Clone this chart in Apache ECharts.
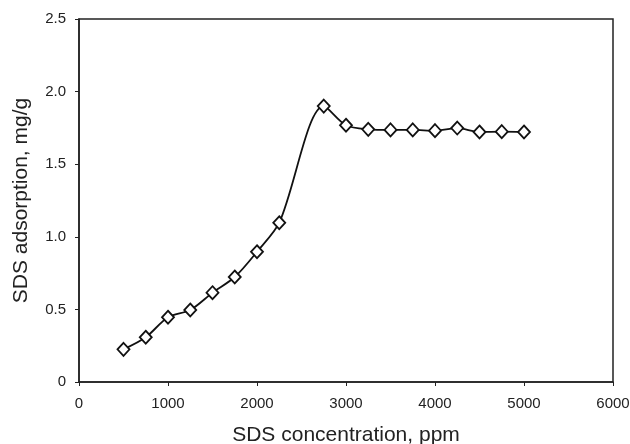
<!DOCTYPE html>
<html>
<head>
<meta charset="utf-8">
<script src="https://cdn.jsdelivr.net/npm/echarts@6/dist/echarts.min.js"></script>
<style>
  html, body { margin: 0; padding: 0; background: #fff; }
  #chart { width: 630px; height: 444px; }
</style>
</head>
<body>
<div id="chart"></div>
<script>
// SDS concentration (ppm) and adsorption (mg/g)
var concentration = [500, 750, 1000, 1250, 1500, 1750, 2000, 2250, 2750, 3000, 3250, 3500, 3750, 4000, 4250, 4500, 4750, 5000];
var adsorption = [0.225, 0.308, 0.446, 0.496, 0.615, 0.723, 0.897, 1.097, 1.90, 1.768, 1.740, 1.736, 1.736, 1.731, 1.749, 1.722, 1.724, 1.722];

var xTicks = [0, 1000, 2000, 3000, 4000, 5000, 6000];
var yTicks = [0, 0.5, 1.0, 1.5, 2.0, 2.5];

var points = [];
for (var i = 0; i < concentration.length; i++) {
    points.push([concentration[i], adsorption[i]]);
}

var font = 'Liberation Sans, Arial, sans-serif';

var option = {
    animation: false,
    backgroundColor: '#fff',
    grid: {
        left: 79,
        right: 17,
        top: 19,
        bottom: 62,
        outerBoundsMode: 'none',
        show: true,
        borderColor: '#222',
        borderWidth: 1.5
    },
    xAxis: {
        type: 'value',
        min: xTicks[0],
        max: xTicks[xTicks.length - 1],
        interval: 1000,
        name: 'SDS concentration, ppm',
        nameLocation: 'middle',
        nameGap: 43,
        nameTextStyle: { fontFamily: font, fontSize: 21, color: '#222' },
        axisLine: { show: true, lineStyle: { color: '#222', width: 1.5 } },
        axisTick: { show: true, length: 4, lineStyle: { color: '#222' } },
        axisLabel: {
            fontFamily: font, fontSize: 15, color: '#222', margin: 14,
            formatter: function (v) { return String(v); }
        },
        splitLine: { show: false }
    },
    yAxis: {
        type: 'value',
        min: yTicks[0],
        max: yTicks[yTicks.length - 1],
        interval: 0.5,
        name: 'SDS adsorption, mg/g',
        nameLocation: 'middle',
        nameGap: 47,
        nameTextStyle: { fontFamily: font, fontSize: 21, color: '#222' },
        axisLine: { show: true, lineStyle: { color: '#222', width: 1.5 } },
        axisTick: { show: true, length: 4, lineStyle: { color: '#222' } },
        axisLabel: {
            fontFamily: font, fontSize: 15, color: '#222', margin: 13,
            formatter: function (v) { return v === 0 ? '0' : v.toFixed(1); }
        },
        splitLine: { show: false }
    },
    series: [{
        type: 'line',
        data: points,
        smooth: 0.3,
        symbol: 'diamond',
        symbolSize: [12, 13],
        lineStyle: { color: '#111', width: 1.8 },
        itemStyle: { color: '#fff', borderColor: '#111', borderWidth: 1.8 }
    }]
};

var myChart = echarts.init(document.getElementById('chart'));
myChart.setOption(option);
</script>
</body>
</html>
